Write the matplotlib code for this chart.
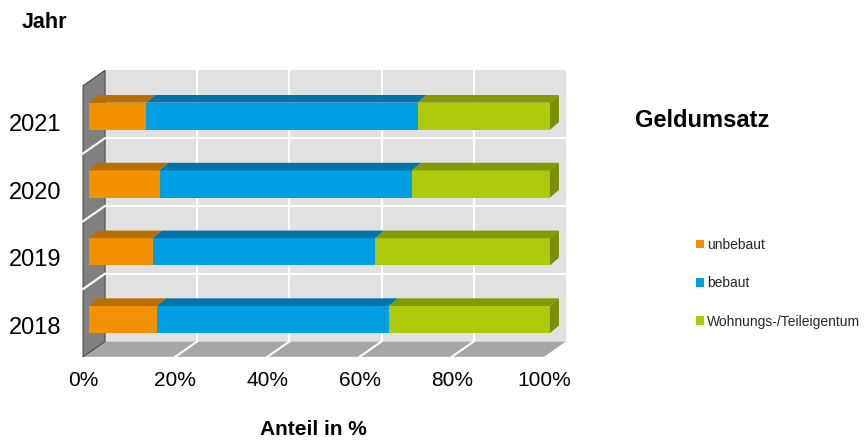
import matplotlib
matplotlib.use("Agg")
import matplotlib.pyplot as plt
from matplotlib.patches import Polygon, Rectangle, Patch

plt.rcParams['font.family'] = ['Liberation Sans', 'DejaVu Sans']

# Daten (Anteile in %)
jahre = ['2018', '2019', '2020', '2021']
unbebaut = [14.7, 13.8, 15.3, 12.4]
bebaut = [50.4, 48.3, 54.8, 58.9]
wohnungen = [34.9, 37.9, 29.9, 28.7]
serien = ['unbebaut', 'bebaut', 'Wohnungs-/Teileigentum']

farben = ['#F39200', '#009FE3', '#AFCA0B']
farben_oben = ['#B86E00', '#0074A8', '#849A00']
farbe_seite = '#7A8F00'

# 3D-Versatz in Datenkoordinaten
bdx, bdy = 3.47, 0.177     # Rueckwand
fdx, fdy = -1.3, -0.05     # Vorderkante Boden
sdx, sdy = 1.95, 0.113     # Tiefe der Balken
h = 0.4

fig = plt.figure(figsize=(8.67, 4.41), dpi=100)
ax = fig.add_axes([66 / 867, 1 - 367 / 441, 507 / 867, 305 / 441])
ax.set_xlim(-5, 105)
ax.set_ylim(-0.7, 3.8)
n = len(jahre)

# Rueckwand
ax.add_patch(Rectangle((bdx, -0.5 + bdy), 100, n, facecolor='#E1E1E1', edgecolor='none', zorder=0))
for t in [20, 40, 60, 80]:
    ax.plot([t + bdx] * 2, [-0.5 + bdy, n - 0.5 + bdy], color='white', lw=1.5, zorder=1)
for k in range(1, n):
    ax.plot([bdx, 100 + bdx], [k - 0.5 + bdy] * 2, color='white', lw=1.5, zorder=1)

# Boden
ax.add_patch(Polygon([(fdx, -0.5 + fdy), (100 + fdx, -0.5 + fdy), (100 + bdx, -0.5 + bdy), (bdx, -0.5 + bdy)],
                     closed=True, facecolor='#A6A6A6', edgecolor='none', zorder=1))
for t in [20, 40, 60, 80]:
    ax.plot([t + fdx, t + bdx], [-0.5 + fdy, -0.5 + bdy], color='white', lw=1.5, zorder=2)

# Seitenwand
ax.add_patch(Polygon([(fdx, -0.5 + fdy), (bdx, -0.5 + bdy), (bdx, n - 0.5 + bdy), (fdx, n - 0.5 + fdy)],
                     closed=True, facecolor='#808080', edgecolor='#4A4A4A', lw=0.8, zorder=1))
for k in range(1, n):
    ax.plot([fdx, bdx], [k - 0.5 + fdy, k - 0.5 + bdy], color='white', lw=1.5, zorder=2)

# Balken
for i in range(n):
    werte = [unbebaut[i], bebaut[i], wohnungen[i]]
    links = 0
    for j, w in enumerate(werte):
        rechts = links + w
        ax.add_patch(Rectangle((links, i - h / 2), w, h, facecolor=farben[j], edgecolor='none', zorder=3))
        ax.add_patch(Polygon([(links, i + h / 2), (rechts, i + h / 2), (rechts + sdx, i + h / 2 + sdy),
                              (links + sdx, i + h / 2 + sdy)], closed=True,
                             facecolor=farben_oben[j], edgecolor='none', zorder=3))
        links = rechts
    ax.add_patch(Polygon([(links, i - h / 2), (links, i + h / 2), (links + sdx, i + h / 2 + sdy),
                          (links + sdx, i - h / 2 + sdy)], closed=True,
                         facecolor=farbe_seite, edgecolor='none', zorder=3))

# Achsen
ax.set_xticks([t + fdx for t in range(0, 101, 20)])
ax.set_xticklabels([f'{t}%' for t in range(0, 101, 20)], fontsize=15)
ax.set_yticks([i - 0.09 for i in range(n)])
ax.set_yticklabels(jahre, fontsize=17)
ax.tick_params(length=0, pad=3)
for s in ax.spines.values():
    s.set_visible(False)
ax.set_xlabel('Anteil in %', fontsize=15, fontweight='bold')
ax.xaxis.set_label_coords((313 - 66) / 507, -0.175)

fig.text(22 / 867, 1 - 22 / 441, 'Jahr', fontsize=15.5, fontweight='bold', va='center', ha='left')
fig.text(635 / 867, 1 - 120 / 441, 'Geldumsatz', fontsize=17, fontweight='bold', va='center', ha='left')

handles = [Patch(facecolor=c, edgecolor='none') for c in farben]
fig.legend(handles, serien, loc='upper left', bbox_to_anchor=(689 / 867, 1 - 231 / 441), frameon=False,
           fontsize=10, handlelength=0.55, handleheight=0.55, handletextpad=0.25, labelspacing=1.75,
           borderpad=0, labelcolor='#262626')

fig.savefig('out.png', dpi=100)
